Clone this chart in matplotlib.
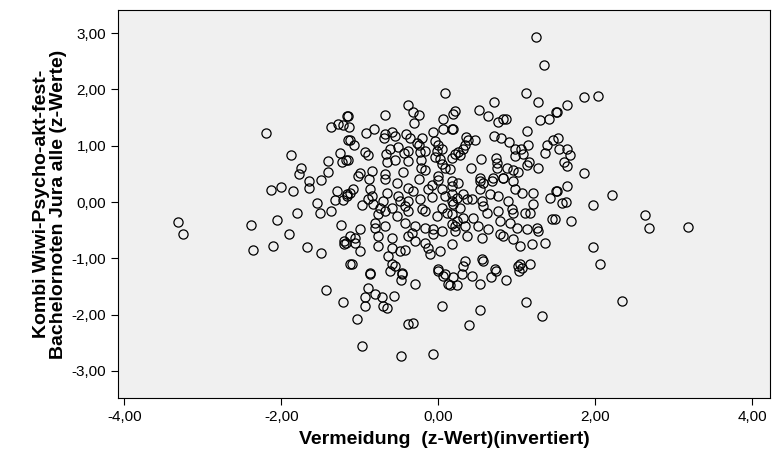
import matplotlib
matplotlib.use("Agg")
import matplotlib.pyplot as plt
from matplotlib.ticker import FixedLocator, FuncFormatter

plt.rcParams['font.family'] = ['Liberation Sans', 'DejaVu Sans']

# ---- data (z-values) ----
x_outer = [-3.32, -3.25, 3.18, 2.34, 1.25, 1.35, 0.09, -0.38, 0.71, 1.12, 1.27, 1.86, 2.04]
y_outer = [-0.35, -0.57, -0.44, -1.75, 2.93, 2.44, 1.94, 1.73, 1.77, 1.93, 1.77, 1.86, 1.89]

x_left = [-2.20, -1.87, -1.75, -1.77, -1.64, -1.49, -1.40, -1.40, -1.25, -1.22, -1.17, -1.36, -1.27,
          -1.21, -1.16, -1.15, -2.13, -2.00, -1.85, -1.64, -1.29, -1.31, -1.21, -1.16, -1.55, -1.80,
          -1.50, -1.36, -2.05, -2.38, -1.90, -1.24, -1.20, -1.20, -2.36, -2.10, -1.67, -1.49, -1.12,
          -1.43, -1.21]
y_left = [1.22, 0.83, 0.60, 0.49, 0.37, 0.39, 0.72, 0.53, 0.87, 0.71, 0.74, 1.33, 1.38,
          1.36, 1.52, 1.10, 0.21, 0.27, 0.19, 0.25, 0.19, 0.04, 0.04, 0.11, -0.02, -0.19,
          -0.19, -0.16, -0.32, -0.41, -0.57, -0.41, -0.69, -0.74, -0.85, -0.78, -0.80, -0.90, -1.10,
          -1.57, -1.77]

x_right = [1.64, 1.52, 1.53, 1.54, 1.64, 1.68, 1.61, 1.64, 1.86, 1.64, 1.52, 1.58, 1.63, 1.97,
           2.22, 2.64, 2.69, 1.69, 1.49, 1.97, 2.06]
y_right = [1.73, 1.59, 1.13, 0.94, 0.94, 0.83, 0.71, 0.64, 0.51, 0.28, 0.19, -0.02, 0.00, -0.05,
           0.12, -0.23, -0.46, -0.34, -0.30, -0.80, -1.10]

x_bottom = [1.12, 1.32, 0.54, 0.39, 0.19, 0.31, 0.43, 0.24, 0.15, 0.54, 0.68, 0.87, 0.74, 1.03,
            -0.87, -0.61, -0.46, -0.47, -0.29, -0.90, -0.80, -0.71, -0.56, -0.93, -0.93, -0.70,
            -0.65, -1.03, -0.39, -0.32, 0.05, -0.97, -0.47, -0.06, 0.00, 0.06, 0.13]
y_bottom = [-1.77, -2.03, -1.91, -2.19, -1.34, -1.27, -1.31, -1.48, -1.48, -1.45, -1.34, -1.38, -1.22, -1.22,
            -1.27, -1.22, -1.27, -1.38, -1.45, -1.52, -1.63, -1.68, -1.66, -1.68, -1.84, -1.84,
            -1.89, -2.07, -2.17, -2.14, -1.84, -2.56, -2.74, -2.70, -1.22, -1.31, -1.45]

x_upper = [-0.32, -0.24, -0.31, -0.68, -1.15, -1.13, -0.92, -0.82, -0.68, -0.59, -0.55, -0.69,
           -0.06, 0.06, 0.06, 0.19, 0.18, -1.12, -1.07, -0.41, -0.36, -0.20, -0.27, -0.04, 0.00,
           -0.51, -0.61, -0.38, -0.43, -0.25, -0.23, -0.17, -0.01, 0.05, -0.66, -0.93, -0.89,
           -1.15, -0.55, -0.65, -0.38, -0.22, -0.22, -0.04, 0.03, 0.05, 0.18, 0.09, 0.15, -0.99,
           -0.84, -0.68, -0.45, -0.17, 0.00,
           0.52, 0.64, 0.76, 0.83, 0.87, 0.22, 0.19, 1.30, 1.41, 1.50, 1.13, 0.71, 0.80, 0.90,
           0.98, 1.06, 1.08, 1.15, 0.98, 1.39, 1.46, 1.36, 0.36, 0.38, 0.47, 0.34, 0.32, 0.25,
           0.22, 0.28, 0.55, 0.42, 0.74, 0.75, 0.75, 0.88, 0.96, 1.02, 1.16, 1.13, 1.27, 0.54,
           0.70, 0.83]
y_upper = [1.59, 1.54, 1.40, 1.54, 1.52, 1.34, 1.22, 1.29, 1.20, 1.25, 1.17, 1.13,
           1.24, 1.47, 1.29, 1.57, 1.29, 1.10, 1.02, 1.20, 1.13, 1.13, 1.04, 1.08, 1.02,
           0.97, 0.94, 0.90, 0.87, 1.02, 0.88, 0.90, 0.90, 0.94, 0.85, 0.88, 0.83,
           0.74, 0.74, 0.71, 0.72, 0.74, 0.60, 0.80, 0.76, 0.67, 0.78, 0.60, 0.58, 0.51,
           0.55, 0.49, 0.53, 0.57, 0.46,
           1.63, 1.52, 1.43, 1.47, 1.48, 1.61, 1.29, 1.45, 1.47, 1.59, 1.27, 1.18, 1.13, 1.06,
           0.95, 0.94, 0.85, 1.01, 0.81, 1.02, 1.10, 0.87, 1.15, 1.10, 1.11, 1.02, 0.95, 0.88,
           0.85, 0.83, 0.76, 0.60, 0.78, 0.69, 0.60, 0.60, 0.57, 0.53, 0.71, 0.65, 0.60, 0.42,
           0.42, 0.42]

x_midleft = [-1.02, -0.88, -0.68, -0.52, -0.39, -0.25, -0.08, 0.00, -0.13, 0.05, 0.18, -1.08, -1.16,
             -1.12, -0.87, -0.84, -0.89, -0.65, -0.70, -0.51, -0.48, -0.32, -0.23, -0.38, 0.09, 0.18,
             -0.08, -0.97, -0.83, -0.74, -0.68, -0.76, -0.59, -0.52, -0.39, -0.42, -0.17, -0.20, 0.05,
             0.11, -0.01, 0.18, -0.80, -0.68, -0.80, -0.42, -0.29, -0.17, -0.06, 0.05, -0.06, 0.18,
             -0.99, -1.12, -1.06, -0.76, -0.59, -0.39, -0.33, -0.29, -1.06, -0.99, -0.76, -0.59,
             -0.64, -0.48, -0.42, -0.17, -0.13, -0.10, 0.03, 0.18, -1.18, -1.10, -0.87, -0.59,
             -0.55, -0.46, 0.00, 0.09]
y_midleft = [0.46, 0.41, 0.41, 0.34, 0.25, 0.41, 0.30, 0.39, 0.23, 0.23, 0.28, 0.23, 0.14,
             0.16, 0.23, 0.11, 0.05, 0.16, 0.02, 0.11, 0.02, 0.19, 0.05, 0.02, 0.11, 0.02,
             0.09, -0.05, -0.04, -0.11, -0.16, -0.21, -0.11, -0.25, -0.16, -0.07, -0.16, -0.12, -0.11,
             -0.19, -0.25, -0.21, -0.37, -0.42, -0.46, -0.37, -0.42, -0.46, -0.48, -0.51, -0.57, -0.39,
             -0.48, -0.60, -0.64, -0.60, -0.64, -0.60, -0.55, -0.69, -0.73, -0.87, -0.78, -0.81,
             -0.96, -0.87, -0.85, -0.73, -0.81, -0.92, -0.87, -0.74, -0.73, -1.10, -1.26, -1.10,
             -1.13, -1.26, -1.19, -1.27]

x_midright = [0.18, 0.25, 0.54, 0.57, 0.69, 0.83, 0.96, 0.98, 1.07, 1.21, 1.43, 1.50, 0.54, 0.66,
              0.76, 0.18, 0.24, 0.32, 0.37, 0.43, 0.19, 0.28, 0.56, 0.57, 0.62, 0.76, 0.89, 0.94,
              0.96, 1.11, 1.17, 1.21, 1.45, 0.24, 0.32, 0.45, 0.22, 0.34, 0.22, 0.37, 0.51, 0.64,
              0.79, 0.92, 1.01, 1.13, 1.26, 1.27, 0.79, 0.83, 0.56, 0.96, 1.04, 1.20, 1.36, 0.34,
              0.56, 0.57, 0.32, 0.73, 1.04, 1.07, 1.17, 1.02]
y_midright = [0.37, 0.34, 0.37, 0.34, 0.37, 0.42, 0.37, 0.23, 0.16, 0.16, 0.07, 0.19, 0.23, 0.14,
              0.11, 0.14, 0.07, 0.14, 0.05, 0.05, -0.04, -0.11, 0.02, -0.07, -0.19, -0.16, 0.02, -0.12,
              -0.19, -0.19, -0.19, -0.04, -0.30, -0.34, -0.28, -0.28, -0.42, -0.42, -0.51, -0.60, -0.42, -0.48,
              -0.34, -0.37, -0.46, -0.48, -0.46, -0.51, -0.57, -0.60, -0.64, -0.65, -0.78, -0.74, -0.73, -1.04,
              -1.01, -1.04, -1.13, -1.19, -1.10, -1.17, -1.10, -1.13]

x_vals = x_outer + x_left + x_right + x_bottom + x_upper + x_midleft + x_midright
y_vals = y_outer + y_left + y_right + y_bottom + y_upper + y_midleft + y_midright

x_ticks = [-4, -2, 0, 2, 4]
y_ticks = [-3, -2, -1, 0, 1, 2, 3]
x_label = "Vermeidung  (z-Wert)(invertiert)"
y_label = "Kombi Wiwi-Psycho-akt-fest-\nBachelornoten Jura alle (z-Werte)"

# ---- figure ----
fig = plt.figure(figsize=(7.74, 4.54), dpi=100)
ax = fig.add_axes([118 / 774, (454 - 398) / 454, (770 - 118) / 774, (398 - 10) / 454])
ax.set_facecolor('#f0f0f0')
ax.plot(x_vals, y_vals, linestyle='none', marker='o', ms=6.6, mfc='none',
        mec='black', mew=0.9)

ax.set_xlim(-4.08, 4.23)
ax.set_ylim(-3.48, 3.41)
ax.xaxis.set_major_locator(FixedLocator(x_ticks))
ax.yaxis.set_major_locator(FixedLocator(y_ticks))
fmt = FuncFormatter(lambda v, p: f"{v:.2f}".replace('.', ','))
ax.xaxis.set_major_formatter(fmt)
ax.yaxis.set_major_formatter(fmt)
ax.tick_params(direction='out', length=5, width=0.8, labelsize=11, colors='black')
for s in ax.spines.values():
    s.set_color('black')
    s.set_linewidth(0.8)

ax.set_xlabel(x_label, fontsize=14, fontweight='bold', labelpad=5)
ax.set_ylabel(y_label, fontsize=14, fontweight='bold', labelpad=3, linespacing=1.0)

fig.savefig('out.png', dpi=100, facecolor='white')
